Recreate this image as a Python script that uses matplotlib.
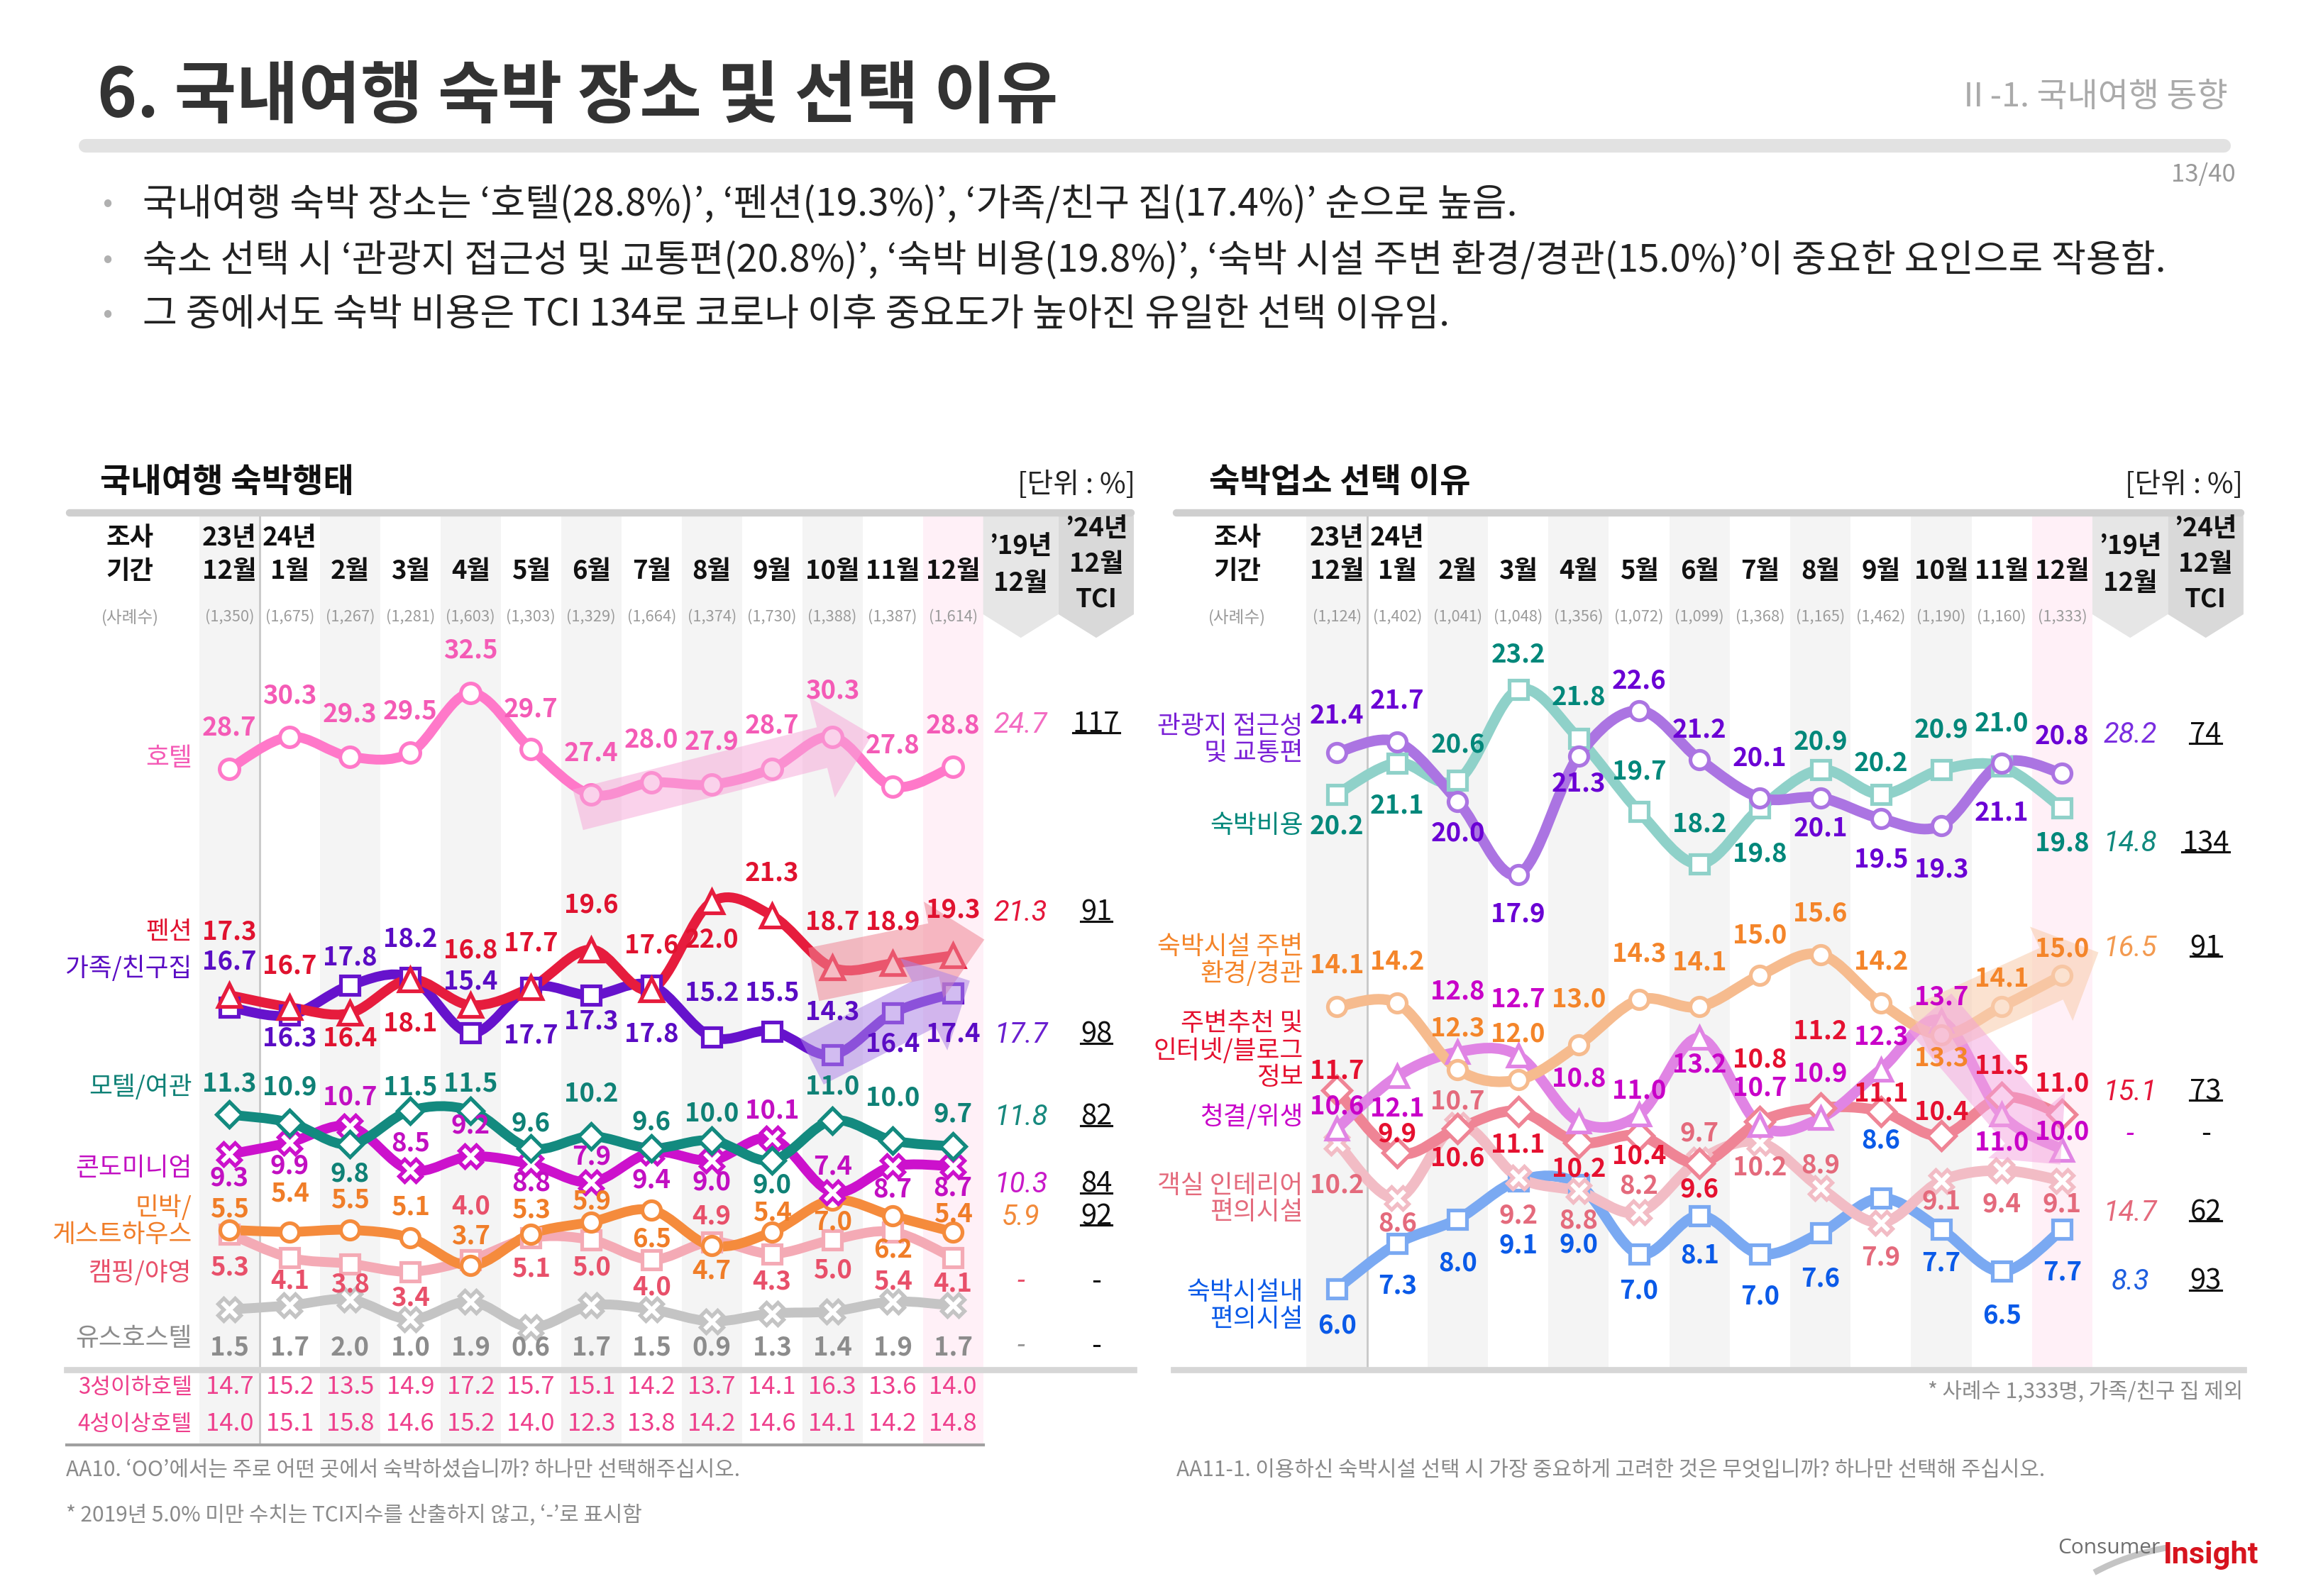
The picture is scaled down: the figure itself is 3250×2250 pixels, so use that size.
import matplotlib.pyplot as plt
import numpy as np
from matplotlib.path import Path
from matplotlib.patches import PathPatch, FancyArrowPatch, Polygon
from matplotlib.lines import Line2D
from matplotlib.transforms import blended_transform_factory

plt.rcParams['font.family'] = ['Noto Sans CJK KR', 'DejaVu Sans']

# ---------------- data ----------------
months = ['12월', '1월', '2월', '3월', '4월', '5월', '6월', '7월', '8월', '9월', '10월', '11월', '12월']
left_n = ['1,350', '1,675', '1,267', '1,281', '1,603', '1,303', '1,329', '1,664', '1,374', '1,730', '1,388', '1,387', '1,614']
right_n = ['1,124', '1,402', '1,041', '1,048', '1,356', '1,072', '1,099', '1,368', '1,165', '1,462', '1,190', '1,160', '1,333']

hotel = [28.7, 30.3, 29.3, 29.5, 32.5, 29.7, 27.4, 28.0, 27.9, 28.7, 30.3, 27.8, 28.8]
pension = [17.3, 16.7, 16.4, 18.1, 16.8, 17.7, 19.6, 17.6, 22.0, 21.3, 18.7, 18.9, 19.3]
family = [16.7, 16.3, 17.8, 18.2, 15.4, 17.7, 17.3, 17.8, 15.2, 15.5, 14.3, 16.4, 17.4]
motel = [11.3, 10.9, 9.8, 11.5, 11.5, 9.6, 10.2, 9.6, 10.0, 9.0, 11.0, 10.0, 9.7]
condo = [9.3, 9.9, 10.7, 8.5, 9.2, 8.8, 7.9, 9.4, 9.0, 10.1, 7.4, 8.7, 8.7]
minbak = [5.5, 5.4, 5.5, 5.1, 3.7, 5.3, 5.9, 6.5, 4.7, 5.4, 7.0, 6.2, 5.4]
camping = [5.3, 4.1, 3.8, 3.4, 4.0, 5.1, 5.0, 4.0, 4.9, 4.3, 5.0, 5.4, 4.1]
youth = [1.5, 1.7, 2.0, 1.0, 1.9, 0.6, 1.7, 1.5, 0.9, 1.3, 1.4, 1.9, 1.7]
hotel_3star = [14.7, 15.2, 13.5, 14.9, 17.2, 15.7, 15.1, 14.2, 13.7, 14.1, 16.3, 13.6, 14.0]
hotel_4star = [14.0, 15.1, 15.8, 14.6, 15.2, 14.0, 12.3, 13.8, 14.2, 14.6, 14.1, 14.2, 14.8]
left_names = ['호텔', '펜션', '가족/친구집', '모텔/여관', '콘도미니엄', '민박/\n게스트하우스', '캠핑/야영', '유스호스텔']
left_2019 = ['24.7', '21.3', '17.7', '11.8', '10.3', '5.9', '-', '-']
left_tci = ['117', '91', '98', '82', '84', '92', '-', '-']

access = [21.4, 21.7, 20.0, 17.9, 21.3, 22.6, 21.2, 20.1, 20.1, 19.5, 19.3, 21.1, 20.8]
cost = [20.2, 21.1, 20.6, 23.2, 21.8, 19.7, 18.2, 19.8, 20.9, 20.2, 20.9, 21.0, 19.8]
scenery = [14.1, 14.2, 12.3, 12.0, 13.0, 14.3, 14.1, 15.0, 15.6, 14.2, 13.3, 14.1, 15.0]
recommend = [11.7, 9.9, 10.6, 11.1, 10.2, 10.4, 9.6, 10.8, 11.2, 11.1, 10.4, 11.5, 11.0]
clean = [10.6, 12.1, 12.8, 12.7, 10.8, 11.0, 13.2, 10.7, 10.9, 12.3, 13.7, 11.0, 10.0]
interior = [10.2, 8.6, 10.7, 9.2, 8.8, 8.2, 9.7, 10.2, 8.9, 7.9, 9.1, 9.4, 9.1]
amenity = [6.0, 7.3, 8.0, 9.1, 9.0, 7.0, 8.1, 7.0, 7.6, 8.6, 7.7, 6.5, 7.7]
right_names = ['관광지 접근성\n및 교통편', '숙박비용', '숙박시설 주변\n환경/경관', '주변추천 및\n인터넷/블로그\n정보',
               '청결/위생', '객실 인테리어\n편의시설', '숙박시설내\n편의시설']
right_2019 = ['28.2', '14.8', '16.5', '15.1', '-', '14.7', '8.3']
right_tci = ['74', '134', '91', '73', '-', '62', '93']

bullets = [
    '국내여행 숙박 장소는 ‘호텔(28.8%)’, ‘펜션(19.3%)’, ‘가족/친구 집(17.4%)’ 순으로 높음.',
    '숙소 선택 시 ‘관광지 접근성 및 교통편(20.8%)’, ‘숙박 비용(19.8%)’, ‘숙박 시설 주변 환경/경관(15.0%)’이 중요한 요인으로 작용함.',
    '그 중에서도 숙박 비용은 TCI 134로 코로나 이후 중요도가 높아진 유일한 선택 이유임.',
]

# label offsets (reference px, negative = above the marker)
off_hotel = [-28, -28, -29, -28, -29, -27, -28, -29, -29, -29, -31, -28, -28]
off_pension = [-43, -28, 17, 30, -37, -30, -30, -30, 26, -29, -31, -28, -31]
off_family = [-31, 16, -19, -26, -35, 33, 18, 33, -30, -26, -29, 21, 28]
off_motel = [-21, -24, 20, -16, -18, -17, -29, -18, -18, 17, -23, -29, -22]
off_condo = [16, 16, -20, -18, -21, 13, -17, 19, 15, -19, -17, 16, 15]
off_minbak = [-14, -26, -20, -21, -20, -16, -14, 20, 17, -13, 15, 23, -12]
off_camping = [23, 16, 14, 18, -36, 21, 19, 19, -17, 19, 21, 34, 18]
off_access = [-25, -28, 22, 27, 19, -20, -20, -27, 21, 28, 30, 34, -25]
off_cost = [22, 29, -24, -24, -28, -27, -27, 31, -19, -21, -27, -29, 24]
off_scenery = [-28, -28, -28, -31, -31, -31, -30, -27, -28, -28, 16, -19, -18]
off_recommend = [-13, -13, 20, 23, 18, 14, 18, -42, -52, -12, -16, -21, -21]
off_clean = [-15, 22, -41, -38, -29, -16, 18, -25, -30, -22, -16, 19, -12]
off_interior = [29, 17, -16, 26, 20, -18, -18, 17, -15, 24, 14, 23, 16]
off_amenity = [25, 29, 30, 44, 41, 25, 27, 29, 31, -39, 23, 30, 29]

# ---------------- layout helpers ----------------
W, H = 1568, 1086
PT = 72 / 250 * 3250 / W


def fx(x):
    return x / W


def fy(y):
    return 1 - y / H


fig = plt.figure(figsize=(13, 9), dpi=250)
fig.patch.set_facecolor('white')


def panel(x0, dx, yref, vref, ppu, top, bottom):
    xl, xr = -2.7, 15.0
    left, right = x0 + xl * dx, x0 + xr * dx
    ax = fig.add_axes([fx(left), fy(bottom), (right - left) / W, (bottom - top) / H])
    ax.set_xlim(xl, xr)
    ax.set_ylim(vref - (bottom - yref) / ppu, vref + (yref - top) / ppu)
    ax.axis('off')
    return ax


def smooth(xs, ys, t=1 / 6):
    p = np.column_stack([xs, ys]).astype(float)
    n = len(p)
    verts, codes = [p[0]], [Path.MOVETO]
    for i in range(n - 1):
        p0 = p[max(i - 1, 0)]
        p3 = p[min(i + 2, n - 1)]
        verts += [p[i] + (p[i + 1] - p0) * t, p[i + 1] - (p3 - p[i]) * t, p[i + 1]]
        codes += [Path.CURVE4] * 3
    return Path(verts, codes)


def frame(ax, counts):
    tr = blended_transform_factory(ax.transData, fig.transFigure)
    for i in range(0, 12, 2):
        ax.axvspan(i - .5, i + .5, color='#f4f4f4', lw=0, zorder=0)
    ax.axvspan(11.5, 12.5, color='#fff0f7', lw=0, zorder=0)
    ax.axvline(0.5, color='#c8c8c8', lw=0.8, zorder=1)
    for xa, xb, c in [(12.5, 13.75, '#e6e6e6'), (13.75, 15.0, '#d9d9d9')]:
        ax.add_patch(Polygon([(xa, fy(351)), (xb, fy(351)), (xb, fy(418)), ((xa + xb) / 2, fy(434)), (xa, fy(418))],
                             closed=True, transform=tr, facecolor=c, edgecolor='none', zorder=1))
    ax.plot([-2.65, 14.95], [fy(349)] * 2, transform=tr, color='#cfcfcf', lw=3, solid_capstyle='round', clip_on=False)
    hk = dict(transform=tr, ha='center', va='center', fontsize=10.5, weight='bold', color='#111111')
    ax.text(-1.65, fy(366), '조사', **hk)
    ax.text(-1.65, fy(389), '기간', **hk)
    ax.text(0, fy(366), '23년', **hk)
    ax.text(1, fy(366), '24년', **hk)
    for i, m in enumerate(months):
        ax.text(i, fy(389), m, **hk)
    ax.text(13.125, fy(372), '’19년', **hk)
    ax.text(13.125, fy(397), '12월', **hk)
    ax.text(14.375, fy(360), '’24년', **hk)
    ax.text(14.375, fy(384), '12월', **hk)
    ax.text(14.375, fy(408), 'TCI', **hk)
    ax.text(-1.65, fy(420), '(사례수)', transform=tr, ha='center', va='center', fontsize=6.8, color='#9a9a9a')
    for i, c in enumerate(counts):
        ax.text(i, fy(420), f'({c})', transform=tr, ha='center', va='center', fontsize=6.3, color='#9a9a9a')
    return tr


def series(ax, vals, line_c, mk, lab_c, offs, ms=8, lw=4.0, z=2):
    xs = np.arange(len(vals))
    ax.add_patch(PathPatch(smooth(xs, vals), fill=False, edgecolor=line_c, lw=lw,
                           capstyle='round', joinstyle='round', zorder=z))
    ax.plot(xs, vals, ls='none', marker=mk, ms=ms, mfc='white', mec=line_c, mew=1.5, zorder=z + 0.1)
    if offs is not None:
        for i, v in enumerate(vals):
            ax.annotate(f'{v:.1f}', (i, v), xytext=(0, -offs[i] * PT), textcoords='offset points',
                        ha='center', va='center', color=lab_c, fontsize=10.5, weight='bold', zorder=8)


def trend(ax, vals, a, b, da, db, color, alpha, tail=22, head=42, hl=21):
    arr = FancyArrowPatch((a + da[0], vals[a] + da[1]), (b + db[0], vals[b] + db[1]),
                          arrowstyle=f'simple,head_length={hl / 10},head_width={head / 10},tail_width={tail / 10}',
                          mutation_scale=10, shrinkA=0, shrinkB=0, facecolor=color, edgecolor='none',
                          alpha=alpha, zorder=6)
    ax.add_patch(arr)


tci_texts = []


def side_values(ax, tr, ys, v19, tci, cols19):
    for y, a, b, c in zip(ys, v19, tci, cols19):
        ax.text(13.125, fy(y), a, transform=tr, ha='center', va='center', fontsize=11.5, color=c,
                family=['Roboto', 'DejaVu Sans'], style='italic', weight='normal')
        t = ax.text(14.375, fy(y), b, transform=tr, ha='center', va='center', fontsize=11.5, color='#111111')
        if b != '-':
            tci_texts.append(t)


# ---------------- title area ----------------
fig.text(fx(66), fy(66), '6. 국내여행 숙박 장소 및 선택 이유', fontsize=27.4, weight='bold', color='#333333', va='center')
fig.text(fx(1515), fy(66), 'Ⅱ-1. 국내여행 동향', fontsize=13.5, color='#aaaaaa', ha='right', va='center')
fig.add_artist(Line2D([fx(58), fx(1512)], [fy(99)] * 2, color='#e2e2e2', lw=5.5, solid_capstyle='round'))
fig.text(fx(1520), fy(119), '13/40', fontsize=10, color='#999999', ha='right', va='center')
for k, (b, y) in enumerate(zip(bullets, [139, 177, 214])):
    fig.text(fx(73), fy(y), '•', fontsize=12, color='#b0b0b0', ha='center', va='center')
    fig.text(fx(97), fy(y), b, fontsize=15.3, color='#222222', va='center')

# ---------------- left panel ----------------
fig.text(fx(68), fy(328), '국내여행 숙박행태', fontsize=13.6, weight='bold', color='#111111', va='center')
fig.text(fx(772), fy(330), '[단위 : %]', fontsize=11.5, color='#222222', ha='right', va='center')
axl = panel(156, 41.0, 523, 28.7, 13.53, 349, 983)
trl = frame(axl, left_n)

series(axl, youth, '#c4c4c4', 'X', '#8c8c8c', None, ms=9)
for i, v in enumerate(youth):
    axl.text(i, fy(917), f'{v:.1f}', transform=trl, ha='center', va='center', fontsize=10.5, weight='bold', color='#8c8c8c')
series(axl, camping, '#f4aab5', 's', '#e8506a', off_camping, ms=7.5)
series(axl, minbak, '#f58b3c', 'o', '#f07d28', off_minbak, ms=7.5)
series(axl, condo, '#cc11cc', 'X', '#c20fc2', off_condo, ms=9)
series(axl, motel, '#138a7f', 'D', '#0f8176', off_motel, ms=7.5)
series(axl, family, '#6612cc', 's', '#5a0cc4', off_family, ms=7.5)
series(axl, pension, '#e61c3d', '^', '#e0122f', off_pension, ms=9)
series(axl, hotel, '#ff78c9', 'o', '#f45bb6', off_hotel, ms=8)

trend(axl, hotel, 6, 10, (-0.22, -0.77), (0.66, 0.1), '#f7a6d8', 0.5, tail=17)
trend(axl, pension, 10, 12, (-0.31, -0.35), (0.52, 0.8), '#ef8796', 0.55, tail=22, head=40)
trend(axl, family, 10, 12, (-0.34, -0.33), (0.28, 0.63), '#ad85e6', 0.55, tail=21)

left_cols = ['#f45bb6', '#e0122f', '#5a0cc4', '#0f8176', '#c20fc2', '#f07d28', '#e8506a', '#8c8c8c']
for name, y, c in zip(left_names, [516, 634, 659, 740, 795, 831, 866, 911], left_cols):
    axl.text(-0.62, fy(y), name, transform=trl, ha='right', va='center', fontsize=10.3, color=c, linespacing=1.05)
side_values(axl, trl, [493, 621, 704, 760, 806, 828, 872, 916], left_2019, left_tci,
            ['#f36cc2', '#e5173b', '#6a1fd0', '#17897e', '#c81ac8', '#f28a3a', '#e8506a', '#9a9a9a'])

axl.plot([-2.7, 15], [fy(932)] * 2, transform=trl, color='#d6d6d6', lw=2.5, clip_on=False)
axl.plot([-2.7, 12.5], [fy(983)] * 2, transform=trl, color='#a0a0a0', lw=1.2, clip_on=False)
for name, vals, y in [('3성이하호텔', hotel_3star, 944), ('4성이상호텔', hotel_4star, 969)]:
    axl.text(-0.62, fy(y), name, transform=trl, ha='right', va='center', fontsize=9, color='#ee3f8c')
    for i, v in enumerate(vals):
        axl.text(i, fy(y), f'{v:.1f}', transform=trl, ha='center', va='center', fontsize=10, color='#ee3f8c')

# ---------------- right panel ----------------
fig.text(fx(822), fy(328), '숙박업소 선택 이유', fontsize=13.6, weight='bold', color='#111111', va='center')
fig.text(fx(1525), fy(330), '[단위 : %]', fontsize=11.5, color='#222222', ha='right', va='center')
axr = panel(909, 41.1, 512, 21.4, 23.7, 349, 932)
trr = frame(axr, right_n)

series(axr, amenity, '#7aa9f2', 's', '#0a5ae8', off_amenity, ms=7.5, lw=4.3)
series(axr, interior, '#f2bcc5', 'X', '#e46a7c', off_interior, ms=9, lw=4.3)
series(axr, recommend, '#ef8495', 'D', '#e5102f', off_recommend, ms=8, lw=4.3)
series(axr, clean, '#e084e4', '^', '#c800c8', off_clean, ms=8.5, lw=4.3)
series(axr, scenery, '#f6bb8e', 'o', '#f4852a', off_scenery, ms=7.5, lw=4.3)
series(axr, cost, '#8fd1c9', 's', '#00877a', off_cost, ms=7.5, lw=4.3)
series(axr, access, '#ab74e2', 'o', '#6a00d4', off_access, ms=7.5, lw=4.3)

trend(axr, scenery, 10, 12, (-0.34, 0.04), (0.6, 0.66), '#f9cfb2', 0.6, tail=23)
trend(axr, clean, 10, 12, (-0.19, 0.25), (-0.03, -0.43), '#f4a3de', 0.5, tail=23, head=41)

right_cols = ['#7a1fd6', '#00877a', '#f4852a', '#e5102f', '#c800c8', '#e46a7c', '#0a5ae8']
for name, y, c in zip(right_names, [503.5, 562, 653.5, 715, 760, 816, 888.5], right_cols):
    axr.text(-0.56, fy(y), name, transform=trr, ha='right', va='center', fontsize=10.3, color=c, linespacing=1.05)
side_values(axr, trr, [500, 574, 645, 743, 772, 825, 872], right_2019, right_tci,
            ['#7a2ee0', '#11897e', '#f39a50', '#e5173b', '#c800c8', '#e46a7c', '#1f5fe0'])
axr.plot([-2.7, 15], [fy(932)] * 2, transform=trr, color='#d6d6d6', lw=2.5, clip_on=False)

# ---------------- footnotes ----------------
fn = dict(fontsize=8.6, color='#8a8a8a', va='center')
fig.text(fx(1525), fy(947), '* 사례수 1,333명, 가족/친구 집 제외', ha='right', **fn)
fig.text(fx(45), fy(1000), 'AA10. ‘OO’에서는 주로 어떤 곳에서 숙박하셨습니까? 하나만 선택해주십시오.', **fn)
fig.text(fx(800), fy(1000), 'AA11-1. 이용하신 숙박시설 선택 시 가장 중요하게 고려한 것은 무엇입니까? 하나만 선택해 주십시오.', **fn)
fig.text(fx(45), fy(1031), '* 2019년 5.0% 미만 수치는 TCI지수를 산출하지 않고, ‘-’로 표시함', **fn)

# logo
swoosh = Path([(fx(1424), fy(1070)), (fx(1446), fy(1058)), (fx(1474), fy(1053))], [Path.MOVETO, Path.CURVE3, Path.CURVE3])
fig.add_artist(PathPatch(swoosh, fill=False, edgecolor='#c4c4c4', lw=2.5, transform=fig.transFigure))
fig.text(fx(1399), fy(1057), 'Consumer', fontsize=8.6, color='#6d6d6d', family=['Open Sans', 'DejaVu Sans'], va='baseline')
fig.text(fx(1471), fy(1064), 'Insight', fontsize=12.5, color='#d7141e', weight='bold', family=['Roboto', 'DejaVu Sans'], va='baseline')

# underline TCI numbers
fig.canvas.draw()
rend = fig.canvas.get_renderer()
inv = fig.transFigure.inverted()
for t in tci_texts:
    bb = t.get_window_extent(rend).transformed(inv)
    yline = bb.y0 + bb.height * 0.2
    fig.add_artist(Line2D([bb.x0, bb.x1], [yline, yline], color='#111111', lw=0.9))

fig.savefig('out.png', dpi=250, facecolor='white')
